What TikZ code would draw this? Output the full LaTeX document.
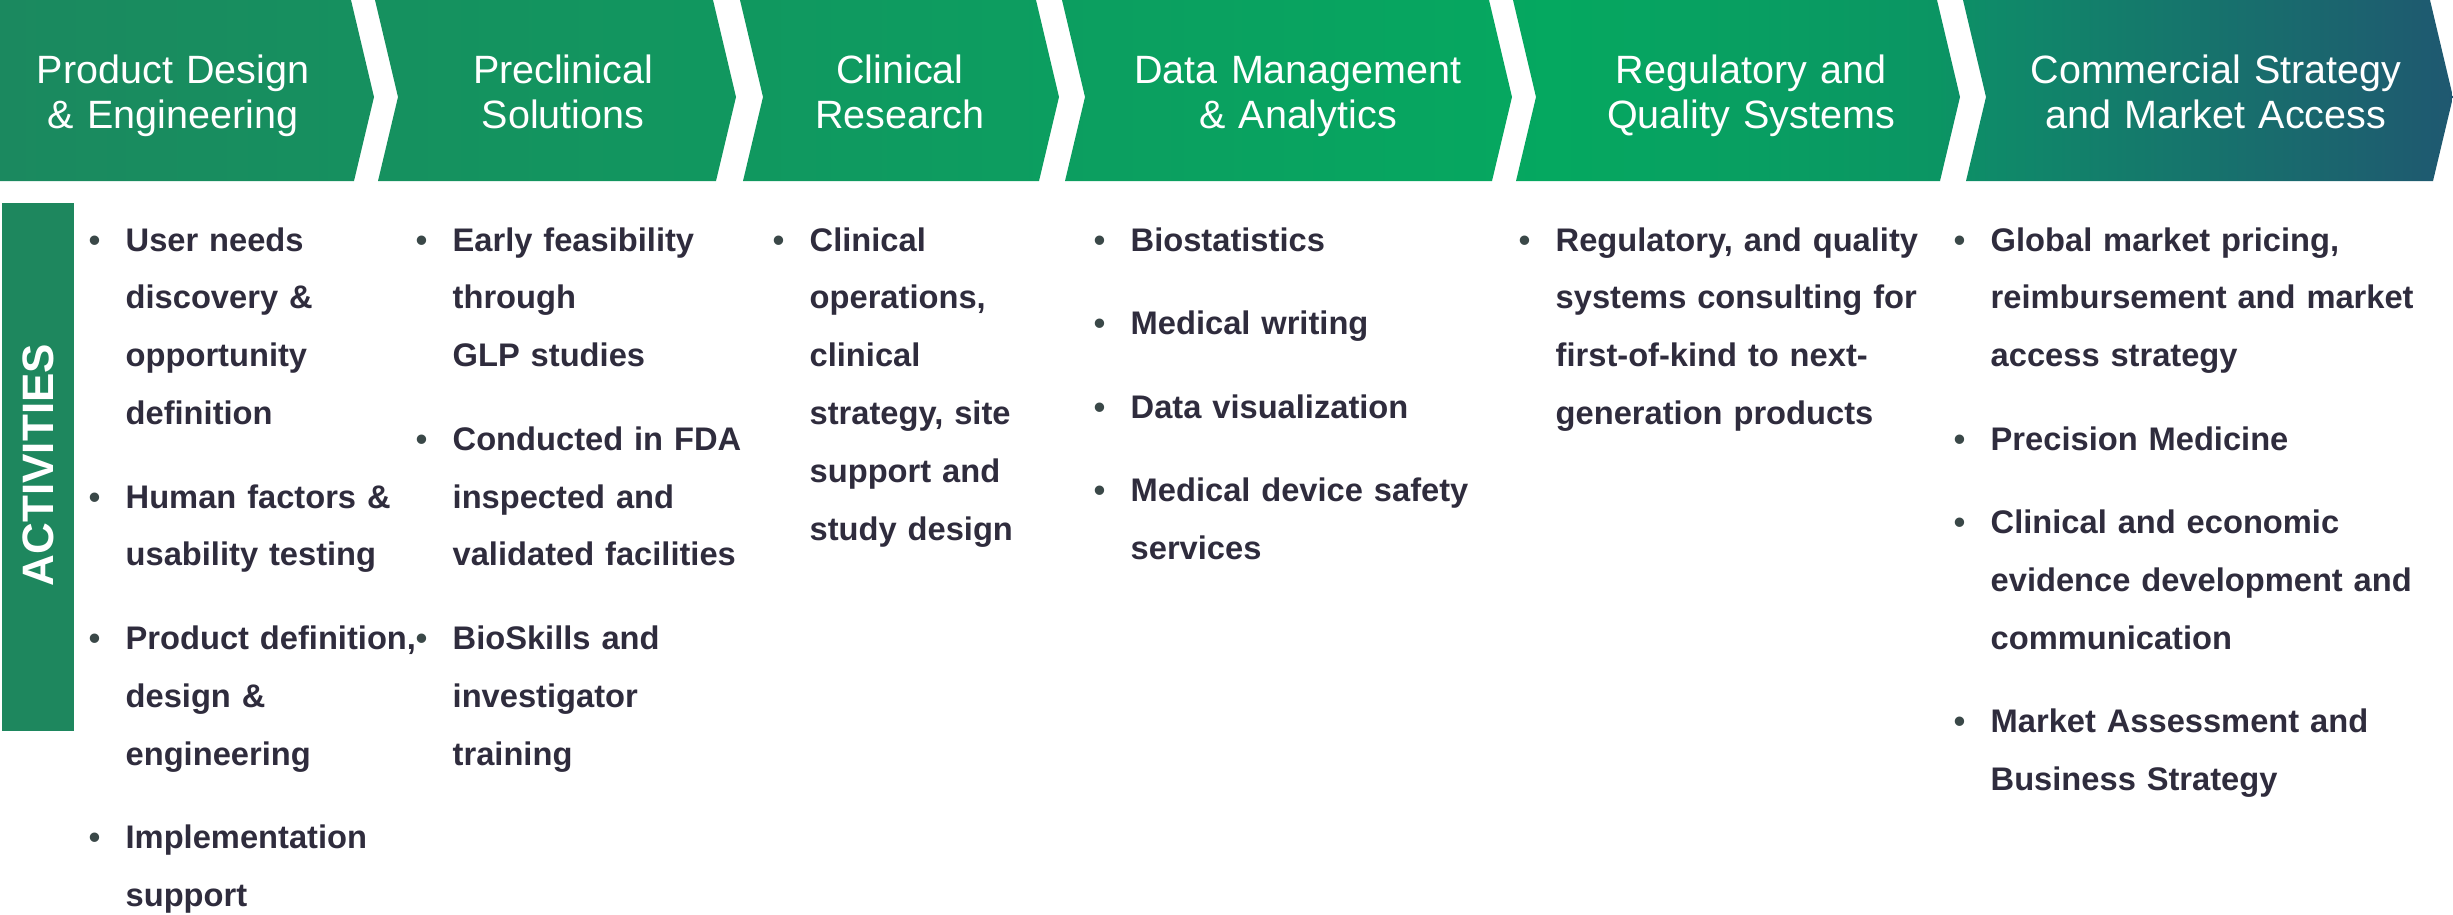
\documentclass[tikz,border=0pt]{standalone}
\usepackage{fontspec}
\setmainfont{Liberation Sans}
\usepackage{xcolor}
\usepackage{tikz}
\definecolor{chevstart}{HTML}{1B895F}
\definecolor{chevbright}{HTML}{05A860}
\definecolor{chevmid}{HTML}{0B9563}
\definecolor{chevteal}{HTML}{0F8A69}
\definecolor{chevend}{HTML}{1F5870}
\definecolor{barfill}{HTML}{1E875E}
\definecolor{ink}{HTML}{2F2C3D}
\definecolor{dot}{HTML}{3A4848}
\pgfdeclarehorizontalshading{chevfade}{100bp}{color(0bp)=(chevstart); color(25bp)=(chevstart); color(56.8bp)=(chevbright); color(64.5bp)=(chevmid); color(65.6bp)=(chevteal); color(75bp)=(chevend); color(100bp)=(chevend)}
\setlength{\parindent}{0pt}
\newcommand{\itm}{\leavevmode\llap{\textcolor{dot}{\textbullet}\hspace{7.6pt}}}
\newcommand{\itemgap}{7.7pt}

\begin{document}
\begin{tikzpicture}[x=0.3pt, y=-0.3pt,
	phase/.style={text=white, align=center, text width=130pt, inner sep=0pt, anchor=base, font=\fontsize{11.85pt}{13.5pt}\selectfont},
	task/.style={text=ink, align=left, text width=135pt, inner sep=0pt, anchor=base west, font=\fontsize{9.8pt}{17.35pt}\selectfont\bfseries}]
			\useasboundingbox (0,0) rectangle (2453,914);
			
			\shade[shading=chevfade]
				(0,0) -- (0,181) -- (354,181) -- (374,97) -- (351,0) -- cycle
				(375,0) -- (398,97) -- (378,181) -- (716,181) -- (736,97) -- (713,0) -- cycle
				(740,0) -- (763,97) -- (743,181) -- (1039,181) -- (1059,97) -- (1036,0) -- cycle
				(1062,0) -- (1085,97) -- (1065,181) -- (1492,181) -- (1512,97) -- (1489,0) -- cycle
				(1513,0) -- (1536,97) -- (1516,181) -- (1940,181) -- (1960,97) -- (1937,0) -- cycle
				(1963,0) -- (1986,97) -- (1966,181) -- (2433,181) -- (2453,97) -- (2430,0) -- cycle;
			
			\node[phase] (h1) at (173,83) {Product Design\\ \& Engineering};
			\node[phase] (h2) at (563,83) {Preclinical\\ Solutions};
			\node[phase] (h3) at (900,83) {Clinical\\ Research};
			\node[phase] (h4) at (1298,83) {Data Management\\ \& Analytics};
			\node[phase] (h5) at (1751,83) {Regulatory and\\ Quality Systems};
			\node[phase] (h6) at (2216,83) {Commercial Strategy\\ and Market Access};
			
			\fill[barfill] (2,203) rectangle (74,731);
			\node[rotate=90, text=white, inner sep=0pt, font=\fontsize{13.2pt}{13.2pt}\selectfont\bfseries] (act) at (38,465) {ACTIVITIES};
			
			\node[task] (t1) at (125,251) {\itm User needs\\ discovery \&\\ opportunity\\ definition\\[\itemgap] \itm Human factors \&\\ usability testing\\[\itemgap] \itm Product definition,\\ design \&\\ engineering\\[\itemgap] \itm Implementation\\ support};
			\node[task] (t2) at (452,251) {\itm Early feasibility\\ through\\ GLP studies\\[\itemgap] \itm Conducted in FDA\\ inspected and\\ validated facilities\\[\itemgap] \itm BioSkills and\\ investigator\\ training};
			\node[task] (t3) at (809,251) {\itm Clinical\\ operations,\\ clinical\\ strategy, site\\ support and\\ study design};
			\node[task] (t4) at (1130,251) {\itm Biostatistics\\[\itemgap] \itm Medical writing\\[\itemgap] \itm Data visualization\\[\itemgap] \itm Medical device safety\\ services};
			\node[task] (t5) at (1555,251) {\itm Regulatory, and quality\\ systems consulting for\\ first-of-kind to next-\\ generation products};
			\node[task] (t6) at (1990,251) {\itm Global market pricing,\\ reimbursement and market\\ access strategy\\[\itemgap] \itm Precision Medicine\\[\itemgap] \itm Clinical and economic\\ evidence development and\\ communication\\[\itemgap] \itm Market Assessment and\\ Business Strategy};
			
			
\end{tikzpicture}
\end{document}
